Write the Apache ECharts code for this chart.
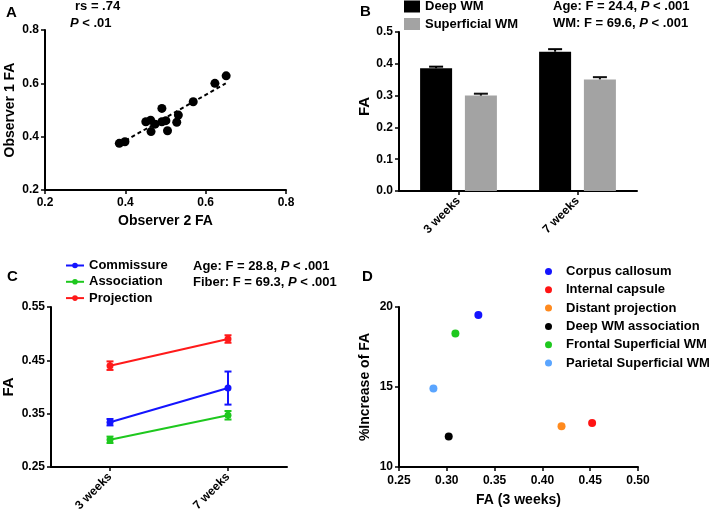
<!DOCTYPE html>
<html><head><meta charset="utf-8">
<script src="https://cdn.jsdelivr.net/npm/echarts@6/dist/echarts.min.js"></script>
<style>html,body{margin:0;padding:0;background:#fff}#c{width:709px;height:514px}</style>
</head><body><div id="c"></div>
<script>
// ---------- Panel A data ----------
const obs2FA = [0.385,0.399,0.451,0.463,0.474,0.464,0.491,0.491,0.501,0.505,0.528,0.532,0.569,0.623,0.651];
const obs1FA = [0.375,0.381,0.456,0.462,0.447,0.419,0.506,0.456,0.460,0.422,0.454,0.481,0.531,0.600,0.628];
const fitX = [0.385, 0.650];
const fitY = [0.372, 0.600];
const ticksA = [0.2, 0.4, 0.6, 0.8];
// ---------- Panel B data ----------
const weeks = ['3 weeks', '7 weeks'];
const deepWM = [0.386, 0.438];
const deepSE = [0.005, 0.008];
const supWM = [0.300, 0.351];
const supSE = [0.006, 0.007];
// ---------- Panel C data ----------
const fiberNames = ['Commissure', 'Association', 'Projection'];
const commissure = [0.334, 0.398];
const commissureSE = [0.006, 0.031];
const association = [0.301, 0.347];
const associationSE = [0.006, 0.008];
const projection = [0.440, 0.490];
const projectionSE = [0.008, 0.007];
const ticksC = [0.25, 0.35, 0.45, 0.55];
// ---------- Panel D data ----------
const regionNames = ['Corpus callosum','Internal capsule','Distant projection','Deep WM association','Frontal Superficial WM','Parietal Superficial WM'];
const fa3weeks = [0.333, 0.452, 0.420, 0.302, 0.309, 0.286];
const pctIncrease = [19.5, 12.75, 12.55, 11.9, 18.35, 14.9];
const regionColors = ['#1414ff','#ff1414','#ff8a1e','#000000','#1ec81e','#5aa5ff'];

const FONT = '"Liberation Sans", Arial, sans-serif';
const fiberColors = ['#1414ff', '#1ec81e', '#ff1a1a'];

const axisLineS = {show: true, lineStyle: {color: '#000', width: 2}};
const tickS = {show: true, length: 4, lineStyle: {color: '#000', width: 1.5}};
const labelS = (extra) => Object.assign({color: '#000', fontSize: 12, fontWeight: 'bold', fontFamily: FONT}, extra || {});
const nameS = {color: '#000', fontSize: 14, fontWeight: 'bold', fontFamily: FONT};

function errRender(offset, capW, lowerCap) {
  return function (params, api) {
    const x = api.value(0), lo = api.value(1), hi = api.value(2);
    const p1 = api.coord([x, lo]), p2 = api.coord([x, hi]);
    const cx = p1[0] + offset;
    const st = {stroke: api.visual('color'), lineWidth: 2};
    const ch = [
      {type: 'line', shape: {x1: cx, y1: p1[1], x2: cx, y2: p2[1]}, style: st},
      {type: 'line', shape: {x1: cx - capW / 2, y1: p2[1], x2: cx + capW / 2, y2: p2[1]}, style: st}
    ];
    if (lowerCap) ch.push({type: 'line', shape: {x1: cx - capW / 2, y1: p1[1], x2: cx + capW / 2, y2: p1[1]}, style: st});
    return {type: 'group', children: ch};
  };
}

function txt(x, y, str, size) {
  return {type: 'text', x: x, y: y, silent: true,
    style: {text: str, fill: '#000', fontSize: size || 13, fontWeight: 'bold', fontFamily: FONT, verticalAlign: 'middle',
      rich: {i: {fontStyle: 'italic', fontWeight: 'bold', fontSize: size || 13, fontFamily: FONT, fill: '#000'}}}};
}

const barW = 32, barGapPx = 12.8;
const off = (barW + barGapPx) / 2;

const seriesC = [];
[[commissure, commissureSE], [association, associationSE], [projection, projectionSE]].forEach((d, k) => {
  seriesC.push({type: 'line', name: fiberNames[k], xAxisIndex: 2, yAxisIndex: 2, data: d[0],
    symbol: 'circle', symbolSize: 7, color: fiberColors[k], lineStyle: {width: 2, color: fiberColors[k]},
    itemStyle: {color: fiberColors[k], opacity: 1}, z: 3});
  seriesC.push({type: 'custom', name: fiberNames[k] + ' err', xAxisIndex: 2, yAxisIndex: 2,
    itemStyle: {color: fiberColors[k]}, renderItem: errRender(0, 7, true),
    data: d[0].map((v, i) => [i, v - d[1][i], v + d[1][i]]), z: 2});
});

const seriesD = regionNames.map((n, i) => ({type: 'scatter', name: n, xAxisIndex: 3, yAxisIndex: 3,
  data: [[fa3weeks[i], pctIncrease[i]]], symbolSize: 8, itemStyle: {color: regionColors[i], opacity: 1}}));

const option = {
  animation: false,
  backgroundColor: '#fff',
  grid: [
    {left: 45, top: 30, width: 241, height: 160},
    {left: 399, top: 32, width: 238, height: 159},
    {left: 49, top: 307, width: 238, height: 160},
    {left: 399, top: 307, width: 239, height: 160}
  ],
  xAxis: [
    {gridIndex: 0, type: 'value', min: 0.2, max: 0.8, interval: 0.2, splitLine: {show: false},
      axisLine: axisLineS, axisTick: tickS, axisLabel: labelS({margin: 7, formatter: v => v.toFixed(1)}),
      name: 'Observer 2 FA', nameLocation: 'middle', nameGap: 24, nameTextStyle: nameS},
    {gridIndex: 1, type: 'category', data: weeks, axisLine: axisLineS,
      axisTick: Object.assign({alignWithLabel: true}, tickS), axisLabel: labelS({rotate: 45, margin: 8})},
    {gridIndex: 2, type: 'category', data: weeks, axisLine: axisLineS,
      axisTick: Object.assign({alignWithLabel: true}, tickS), axisLabel: labelS({rotate: 45, margin: 8})},
    {gridIndex: 3, type: 'value', min: 0.25, max: 0.5, interval: 0.05, splitLine: {show: false},
      axisLine: axisLineS, axisTick: tickS, axisLabel: labelS({margin: 8, formatter: v => v.toFixed(2)}),
      name: 'FA (3 weeks)', nameLocation: 'middle', nameGap: 26, nameTextStyle: nameS}
  ],
  yAxis: [
    {gridIndex: 0, type: 'value', min: 0.2, max: 0.8, interval: 0.2, splitLine: {show: false},
      axisLine: axisLineS, axisTick: tickS, axisLabel: labelS({margin: 6, formatter: v => v.toFixed(1)}),
      name: 'Observer 1 FA', nameLocation: 'middle', nameGap: 28, nameTextStyle: nameS},
    {gridIndex: 1, type: 'value', min: 0, max: 0.5, interval: 0.1, splitLine: {show: false},
      axisLine: axisLineS, axisTick: tickS, axisLabel: labelS({margin: 6, formatter: v => v.toFixed(1)}),
      name: 'FA', nameLocation: 'middle', nameGap: 27, nameTextStyle: Object.assign({padding: [0, 0, 0, 10]}, nameS, {fontSize: 15})},
    {gridIndex: 2, type: 'value', min: 0.25, max: 0.55, splitLine: {show: false},
      axisLine: axisLineS, axisTick: Object.assign({customValues: ticksC}, tickS),
      axisLabel: labelS({margin: 6, customValues: ticksC, formatter: v => v.toFixed(2)}),
      name: 'FA', nameLocation: 'middle', nameGap: 35, nameTextStyle: Object.assign({}, nameS, {fontSize: 15})},
    {gridIndex: 3, type: 'value', min: 10, max: 20, interval: 5, splitLine: {show: false},
      axisLine: axisLineS, axisTick: tickS, axisLabel: labelS({margin: 6}),
      name: '%Increase of FA', nameLocation: 'middle', nameGap: 27, nameTextStyle: nameS}
  ],
  legend: [
    {data: ['Deep WM', 'Superficial WM'], orient: 'vertical', left: 404, top: 0, padding: 0,
      icon: 'rect', itemWidth: 16, itemHeight: 12, itemGap: 4.5, selectedMode: false,
      textStyle: {color: '#000', fontSize: 13, fontWeight: 'bold', fontFamily: FONT}},
    {data: fiberNames, orient: 'vertical', left: 65, top: 259, padding: 0,
      itemWidth: 18, itemHeight: 7, itemGap: 3.3, selectedMode: false,
      textStyle: {color: '#000', fontSize: 13, fontWeight: 'bold', fontFamily: FONT}},
    {data: regionNames, orient: 'vertical', left: 545, top: 265, padding: 0,
      icon: 'circle', itemWidth: 25, itemHeight: 7, itemGap: 5.3, selectedMode: false,
      textStyle: {color: '#000', fontSize: 13, fontWeight: 'bold', fontFamily: FONT}}
  ],
  graphic: [
    txt(6, 13, 'A', 15), txt(360, 12, 'B', 15), txt(7, 277, 'C', 15), txt(362, 277, 'D', 15),
    txt(75, 6, 'rs = .74'), txt(70, 23, '{i|P} < .01'),
    txt(553, 6, 'Age: F = 24.4, {i|P} < .001'), txt(553, 23, 'WM: F = 69.6, {i|P} < .001'),
    txt(193, 266, 'Age: F = 28.8, {i|P} < .001'), txt(193, 282, 'Fiber: F = 69.3, {i|P} < .001')
  ],
  series: [
    {type: 'scatter', xAxisIndex: 0, yAxisIndex: 0, data: obs2FA.map((x, i) => [x, obs1FA[i]]),
      symbolSize: 9, itemStyle: {color: '#000', opacity: 1}, z: 3},
    {type: 'line', xAxisIndex: 0, yAxisIndex: 0, data: fitX.map((x, i) => [x, fitY[i]]), symbol: 'none',
      lineStyle: {color: '#000', width: 2, type: [4, 3]}, z: 2},
    {type: 'bar', name: 'Deep WM', xAxisIndex: 1, yAxisIndex: 1, data: deepWM, barWidth: barW, barGap: '40%',
      itemStyle: {color: '#000'}},
    {type: 'bar', name: 'Superficial WM', xAxisIndex: 1, yAxisIndex: 1, data: supWM, barWidth: barW,
      itemStyle: {color: '#a3a3a3'}},
    {type: 'custom', xAxisIndex: 1, yAxisIndex: 1, itemStyle: {color: '#000'}, renderItem: errRender(-off, 14, false),
      data: deepWM.map((v, i) => [i, v, v + deepSE[i]]), z: 5},
    {type: 'custom', xAxisIndex: 1, yAxisIndex: 1, itemStyle: {color: '#111'}, renderItem: errRender(off, 14, false),
      data: supWM.map((v, i) => [i, v, v + supSE[i]]), z: 5}
  ].concat(seriesC, seriesD)
};

const chart = echarts.init(document.getElementById('c'), null, {renderer: 'canvas'});
chart.setOption(option);
</script>
</body></html>
